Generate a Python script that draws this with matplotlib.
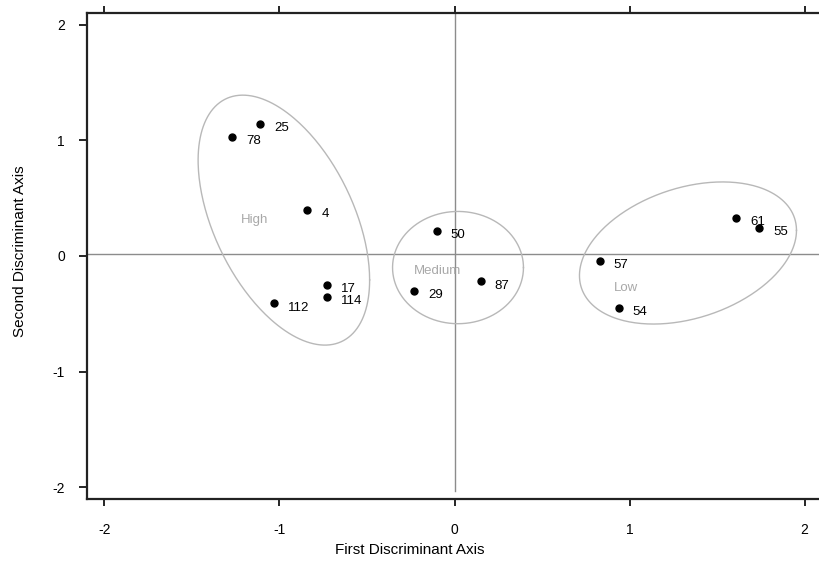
import numpy as np
import matplotlib
matplotlib.use("Agg")
import matplotlib.pyplot as plt

plt.rcParams['font.family'] = ['Liberation Sans', 'DejaVu Sans']

# discriminant scores for each case
case_ids = ['78', '25', '4', '17', '114', '112', '50', '29', '87', '57', '54', '61', '55']
axis1 = [-1.27, -1.11, -0.84, -0.73, -0.73, -1.03, -0.10, -0.23, 0.15, 0.83, 0.94, 1.61, 1.74]
axis2 = [1.03, 1.14, 0.40, -0.25, -0.35, -0.41, 0.22, -0.30, -0.22, -0.04, -0.45, 0.33, 0.24]

# group ellipses: centre, half extents, tilt phase
groups = ['High', 'Medium', 'Low']
grp_cx = [-0.975, 0.02, 1.334]
grp_cy = [0.31, -0.10, 0.026]
grp_rx = [0.49, 0.374, 0.62]
grp_ry = [1.08, 0.485, 0.614]
grp_phase = [2.07, 1.5708, 1.247]
grp_label_x = [-1.14, -0.10, 0.98]
grp_label_y = [0.31, -0.13, -0.28]

fig = plt.figure(figsize=(8.19, 5.72), dpi=100)
ax = fig.add_axes([0.1062, 0.1276, 0.8975, 0.8497])

ax.set_xlim(-2.1, 2.1)
ax.set_ylim(-2.1, 2.1)

# reference lines
ax.axhline(0.02, color='#8c8c8c', lw=1.0, zorder=1)
ax.plot([0, 0], [-2.03, 2.1], color='#8c8c8c', lw=1.0, zorder=1)

# ellipses
t = np.linspace(0, 2 * np.pi, 300)
for i, g in enumerate(groups):
  ex = grp_cx[i] + grp_rx[i] * np.cos(t)
  ey = grp_cy[i] + grp_ry[i] * np.cos(t + grp_phase[i])
  ax.plot(ex, ey, color='#b8b8b8', lw=1.0, zorder=2)
  ax.text(grp_label_x[i], grp_label_y[i], g, color='#a8a8a8', fontsize=9.5,
          ha='center', va='center', zorder=3)

# points and labels
ax.plot(axis1, axis2, 'o', color='black', ms=5, zorder=4)
for lab, x, y in zip(case_ids, axis1, axis2):
  ax.annotate(lab, (x, y), xytext=(10, -3), textcoords='offset points',
              fontsize=9.5, va='center', ha='left')

ax.set_xticks([-2, -1, 0, 1, 2])
ax.set_xticklabels(['-2', '-1', '0', '1', '2'])
ax.set_yticks([-2, -1, 0, 1, 2])
ax.set_yticklabels(['-2', '-1', '0', '1', '2'])
ax.tick_params(axis='x', top=True, bottom=True, direction='out', length=5,
               width=1.2, labelsize=10, pad=12)
ax.tick_params(axis='y', left=True, right=False, direction='out', length=6,
               width=1.2, labelsize=10, pad=10)

for s in ax.spines.values():
  s.set_linewidth(1.6)
  s.set_color('#222222')
ax.spines['right'].set_visible(False)

fig.text(0.5, 0.038, 'First Discriminant Axis', ha='center', va='center', fontsize=11)
fig.text(0.024, 0.56, 'Second Discriminant Axis', ha='center', va='center',
         rotation=90, fontsize=11)

plt.savefig('out.png', dpi=100)
